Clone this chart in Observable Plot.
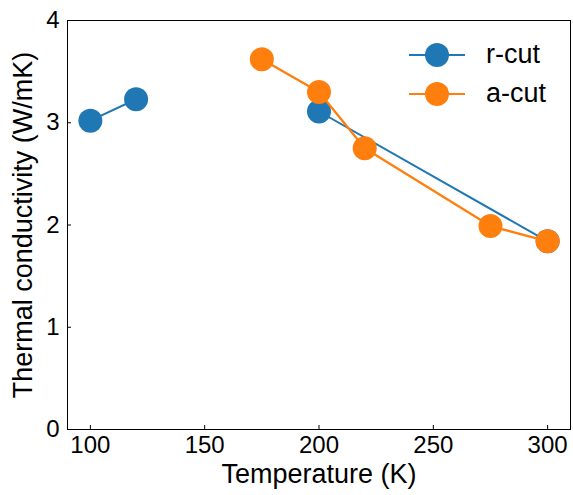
<!DOCTYPE html>
<html>
<head>
<meta charset="utf-8">
<script src="https://cdn.jsdelivr.net/npm/d3@7"></script>
<script src="https://cdn.jsdelivr.net/npm/@observablehq/plot@0.6"></script>
<style>
  html, body { margin: 0; padding: 0; background: white; }
  #wrap { position: relative; width: 573px; height: 495px; font-family: "Liberation Sans", Arial, Helvetica, sans-serif; }
  #legend { position: absolute; left: 405px; top: 35px; }
  .row { display: flex; align-items: center; height: 39px; }
  .row span { font-size: 27px; margin-left: 21px; color: black; }
</style>
</head>
<body>
<div id="wrap"><div id="legend"></div></div>
<script>
// Thermal conductivity vs temperature for two crystal cuts
const rCutTemp = [100, 120, null, 200, 300];
const rCutK = [3.02, 3.23, null, 3.11, 1.84];
const aCutTemp = [175, 200, 220, 275, 300];
const aCutK = [3.62, 3.30, 2.75, 1.99, 1.84];

const xTicks = [100, 150, 200, 250, 300];
const yTicks = [0, 1, 2, 3, 4];

const seriesNames = ["r-cut", "a-cut"];
const seriesColors = ["#1f77b4", "#ff7f0e"];

const rCut = rCutTemp.map((t, i) => ({temp: t, k: rCutK[i]}));
const aCut = aCutTemp.map((t, i) => ({temp: t, k: aCutK[i]}));

const chart = Plot.plot({
  width: 573,
  height: 495,
  marginLeft: 67,
  marginRight: 3,
  marginTop: 20,
  marginBottom: 66,
  style: {fontFamily: "'Liberation Sans', Arial, Helvetica, sans-serif", fontSize: "24px", color: "black", background: "white"},
  x: {domain: [90, 310]},
  y: {domain: [0, 4]},
  marks: [
    Plot.axisX({ticks: xTicks, tickFormat: d3.format("d"), tickSize: -4, tickPadding: 10, label: null, fontSize: 24}),
    Plot.axisY({ticks: yTicks, tickFormat: d3.format("d"), tickSize: -4, tickPadding: 12, label: null, fontSize: 24}),
    Plot.line(rCut, {x: "temp", y: "k", stroke: seriesColors[0], strokeWidth: 2}),
    Plot.dot(rCut, {x: "temp", y: "k", r: 12, fill: seriesColors[0]}),
    Plot.line(aCut, {x: "temp", y: "k", stroke: seriesColors[1], strokeWidth: 2.3}),
    Plot.dot(aCut, {x: "temp", y: "k", r: 12, fill: seriesColors[1]}),
    Plot.frame({stroke: "black", strokeWidth: 1}),
    Plot.text(["Temperature (K)"], {frameAnchor: "bottom", dy: 45, lineAnchor: "middle", fontSize: 27, fill: "black"}),
    Plot.text(["Thermal conductivity (W/mK)"], {frameAnchor: "left", dx: -44, rotate: -90, lineAnchor: "middle", textAnchor: "middle", fontSize: 27, fill: "black"})
  ]
});
document.getElementById("wrap").prepend(chart);

// Legend drawn over the upper-right corner of the plot area
const legend = d3.select("#legend");
seriesNames.forEach((name, i) => {
  const row = legend.append("div").attr("class", "row");
  const svg = row.append("svg").attr("width", 60).attr("height", 26);
  svg.append("line").attr("x1", 4).attr("x2", 60).attr("y1", 13).attr("y2", 13)
    .attr("stroke", seriesColors[i]).attr("stroke-width", 2);
  svg.append("circle").attr("cx", 32).attr("cy", 13).attr("r", 12).attr("fill", seriesColors[i]);
  row.append("span").text(name);
});
</script>
</body>
</html>
